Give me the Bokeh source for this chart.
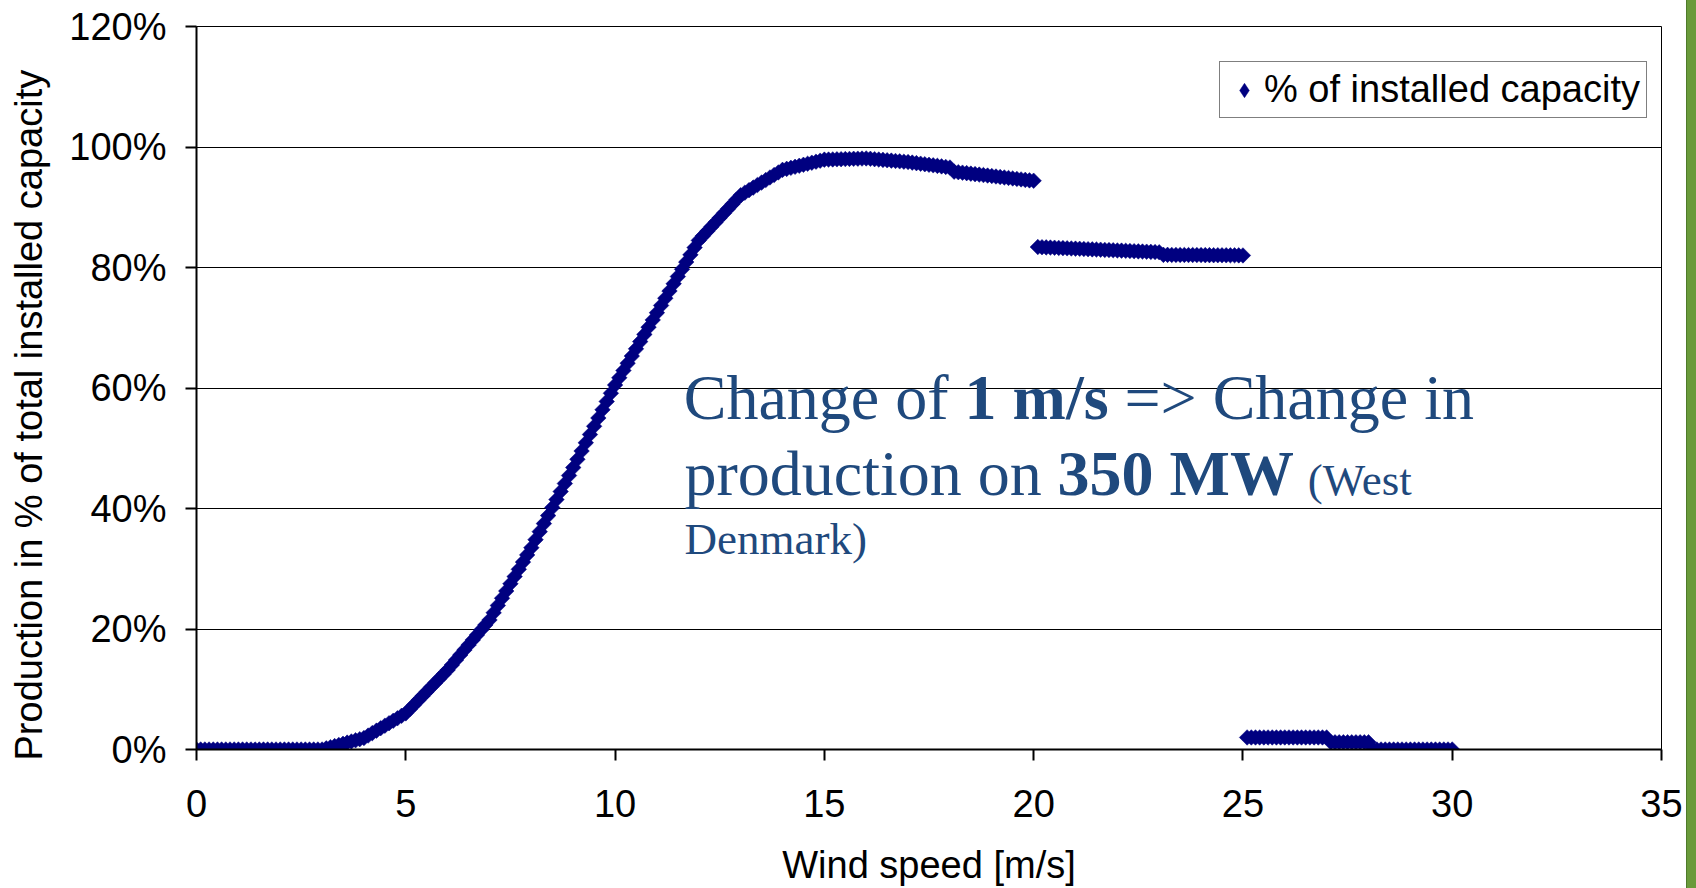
import math
from bokeh.plotting import figure
from bokeh.layouts import row
from bokeh.models import (Range1d, FixedTicker, Label, Legend, LegendItem, Title, Div,
                          LinearAxis)
from bokeh.embed import file_html
from bokeh.resources import INLINE

# ---------------- data ----------------
wind_speed = [
    0.0, 0.1, 0.2, 0.3, 0.4, 0.5, 0.6, 0.7, 0.8, 0.9,
    1.0, 1.1, 1.2, 1.3, 1.4, 1.5, 1.6, 1.7, 1.8, 1.9,
    2.0, 2.1, 2.2, 2.3, 2.4, 2.5, 2.6, 2.7, 2.8, 2.9,
    3.0, 3.1, 3.2, 3.3, 3.4, 3.5, 3.6, 3.7, 3.8, 3.9,
    4.0, 4.1, 4.2, 4.3, 4.4, 4.5, 4.6, 4.7, 4.8, 4.9,
    5.0, 5.1, 5.2, 5.3, 5.4, 5.5, 5.6, 5.7, 5.8, 5.9,
    6.0, 6.1, 6.2, 6.3, 6.4, 6.5, 6.6, 6.7, 6.8, 6.9,
    7.0, 7.1, 7.2, 7.3, 7.4, 7.5, 7.6, 7.7, 7.8, 7.9,
    8.0, 8.1, 8.2, 8.3, 8.4, 8.5, 8.6, 8.7, 8.8, 8.9,
    9.0, 9.1, 9.2, 9.3, 9.4, 9.5, 9.6, 9.7, 9.8, 9.9,
    10.0, 10.1, 10.2, 10.3, 10.4, 10.5, 10.6, 10.7, 10.8, 10.9,
    11.0, 11.1, 11.2, 11.3, 11.4, 11.5, 11.6, 11.7, 11.8, 11.9,
    12.0, 12.1, 12.2, 12.3, 12.4, 12.5, 12.6, 12.7, 12.8, 12.9,
    13.0, 13.1, 13.2, 13.3, 13.4, 13.5, 13.6, 13.7, 13.8, 13.9,
    14.0, 14.1, 14.2, 14.3, 14.4, 14.5, 14.6, 14.7, 14.8, 14.9,
    15.0, 15.1, 15.2, 15.3, 15.4, 15.5, 15.6, 15.7, 15.8, 15.9,
    16.0, 16.1, 16.2, 16.3, 16.4, 16.5, 16.6, 16.7, 16.8, 16.9,
    17.0, 17.1, 17.2, 17.3, 17.4, 17.5, 17.6, 17.7, 17.8, 17.9,
    18.0, 18.1, 18.2, 18.3, 18.4, 18.5, 18.6, 18.7, 18.8, 18.9,
    19.0, 19.1, 19.2, 19.3, 19.4, 19.5, 19.6, 19.7, 19.8, 19.9,
    20.0, 20.1, 20.2, 20.3, 20.4, 20.5, 20.6, 20.7, 20.8, 20.9,
    21.0, 21.1, 21.2, 21.3, 21.4, 21.5, 21.6, 21.7, 21.8, 21.9,
    22.0, 22.1, 22.2, 22.3, 22.4, 22.5, 22.6, 22.7, 22.8, 22.9,
    23.0, 23.1, 23.2, 23.3, 23.4, 23.5, 23.6, 23.7, 23.8, 23.9,
    24.0, 24.1, 24.2, 24.3, 24.4, 24.5, 24.6, 24.7, 24.8, 24.9,
    25.0, 25.1, 25.2, 25.3, 25.4, 25.5, 25.6, 25.7, 25.8, 25.9,
    26.0, 26.1, 26.2, 26.3, 26.4, 26.5, 26.6, 26.7, 26.8, 26.9,
    27.0, 27.1, 27.2, 27.3, 27.4, 27.5, 27.6, 27.7, 27.8, 27.9,
    28.0, 28.1, 28.2, 28.3, 28.4, 28.5, 28.6, 28.7, 28.8, 28.9,
    29.0, 29.1, 29.2, 29.3, 29.4, 29.5, 29.6, 29.7, 29.8, 29.9,
    30.0,
]

capacity_pct = [
    0, 0, 0, 0, 0, 0, 0, 0, 0, 0,
    0, 0, 0, 0, 0, 0, 0, 0, 0, 0,
    0, 0, 0, 0, 0, 0, 0, 0, 0, 0,
    0, 0.19, 0.38, 0.57, 0.76, 0.95, 1.14, 1.33, 1.52, 1.71,
    1.9, 2.31, 2.72, 3.13, 3.54, 3.95, 4.36, 4.77, 5.18, 5.59,
    6.0, 6.72, 7.44, 8.16, 8.88, 9.6, 10.32, 11.04, 11.76, 12.48,
    13.2, 14.03, 14.86, 15.69, 16.52, 17.35, 18.18, 19.01, 19.84, 20.67,
    21.5, 22.7, 23.9, 25.1, 26.3, 27.5, 28.7, 29.9, 31.1, 32.3,
    33.5, 34.83, 36.16, 37.49, 38.82, 40.15, 41.48, 42.81, 44.14, 45.47,
    46.8, 48.17, 49.54, 50.91, 52.28, 53.65, 55.02, 56.39, 57.76, 59.13,
    60.5, 61.7, 62.9, 64.1, 65.3, 66.5, 67.7, 68.9, 70.1, 71.3,
    72.5, 73.7, 74.9, 76.1, 77.3, 78.5, 79.7, 80.9, 82.1, 83.3,
    84.5, 85.25, 86.0, 86.75, 87.5, 88.25, 89.0, 89.75, 90.5, 91.25,
    92.0, 92.42, 92.84, 93.26, 93.68, 94.1, 94.52, 94.94, 95.36, 95.78,
    96.2, 96.37, 96.54, 96.71, 96.88, 97.05, 97.22, 97.39, 97.56, 97.73,
    97.9, 97.92, 97.94, 97.96, 97.98, 98.0, 98.02, 98.04, 98.06, 98.08,
    98.1, 98.04, 97.98, 97.92, 97.86, 97.8, 97.74, 97.68, 97.62, 97.56,
    97.5, 97.41, 97.32, 97.23, 97.14, 97.05, 96.96, 96.87, 96.78, 96.69,
    96.6, 95.9, 95.82, 95.74, 95.66, 95.58, 95.5, 95.42, 95.34, 95.26,
    95.18, 95.1, 95.02, 94.94, 94.86, 94.78, 94.7, 94.62, 94.54, 94.46,
    94.4, 83.4, 83.37, 83.34, 83.31, 83.28, 83.25, 83.22, 83.19, 83.16,
    83.13, 83.1, 83.07, 83.04, 83.01, 82.98, 82.95, 82.92, 82.89, 82.86,
    82.83, 82.8, 82.77, 82.74, 82.71, 82.68, 82.65, 82.62, 82.59, 82.56,
    82.53, 82.1, 82.1, 82.09, 82.09, 82.08, 82.08, 82.07, 82.07, 82.06,
    82.06, 82.05, 82.05, 82.04, 82.04, 82.03, 82.03, 82.02, 82.02, 82.01,
    82.0, 2.0, 2.0, 2.0, 2.0, 2.0, 2.0, 2.0, 2.0, 2.0,
    2.0, 2.0, 2.0, 2.0, 2.0, 2.0, 2.0, 2.0, 2.0, 2.0,
    2.0, 1.2, 1.2, 1.2, 1.2, 1.2, 1.2, 1.2, 1.2, 1.2,
    1.2, 0, 0, 0, 0, 0, 0, 0, 0, 0,
    0, 0, 0, 0, 0, 0, 0, 0, 0, 0,
    0,
]

series_name = "% of installed capacity"
x_ticks = [0, 5, 10, 15, 20, 25, 30, 35]
y_ticks = [0, 20, 40, 60, 80, 100, 120]
y_tick_labels = ["0%", "20%", "40%", "60%", "80%", "100%", "120%"]
x_title = "Wind speed [m/s]"
y_title = "Production in % of total installed capacity"

SANS = "Liberation Sans"
SERIF = "Liberation Serif"
NAVY = "#000080"
NOTE = "#1F497D"
FS = "38px"

# ---------------- figure ----------------
p = figure(
    width=1686, height=888,
    output_backend="svg", toolbar_location=None,
    x_range=Range1d(0, 35), y_range=Range1d(0, 120),
    min_border_left=196, min_border_right=25,
    min_border_top=26, min_border_bottom=137,
)
p.background_fill_color = "white"
p.border_fill_color = "white"
p.outline_line_color = "black"
p.outline_line_width = 1

# diamond series (the narrow diamonds sit hidden inside the square diamonds and
# give the legend its diamond key)
r_key = p.scatter(wind_speed, capacity_pct, marker="diamond", size=10,
                  fill_color=NAVY, line_color=NAVY, line_width=0.5)
r = p.scatter(wind_speed, capacity_pct, marker="square", angle=math.pi / 4,
              size=11, fill_color=NAVY, line_color=NAVY, line_width=0.5)

# axes
for ax in (p.xaxis[0], p.yaxis[0]):
    ax.axis_line_color = "black"
    ax.axis_line_width = 2
    ax.major_tick_line_color = "black"
    ax.major_tick_line_width = 2
    ax.major_tick_in = 0
    ax.major_tick_out = 11
    ax.minor_tick_line_color = None
    ax.major_label_text_font = SANS
    ax.major_label_text_font_size = FS
    ax.major_label_text_color = "black"

xax = p.xaxis[0]
xax.ticker = FixedTicker(ticks=x_ticks)
xax.major_label_standoff = 29
xax.axis_label = x_title
xax.axis_label_text_font = SANS
xax.axis_label_text_font_size = FS
xax.axis_label_text_font_style = "normal"
xax.axis_label_text_color = "black"
xax.axis_label_standoff = 24

yax = p.yaxis[0]
yax.ticker = FixedTicker(ticks=y_ticks)
yax.major_label_overrides = {t: s for t, s in zip(y_ticks, y_tick_labels)}
yax.major_label_standoff = 19

p.xgrid.visible = False
p.ygrid.grid_line_color = "black"
p.ygrid.grid_line_width = 1
p.ygrid.grid_line_alpha = 1

# invisible spacer axis (one hidden tick) so the y title sits further out
spacer = LinearAxis(ticker=FixedTicker(ticks=[0]), major_label_overrides={0: ""},
                    axis_line_color=None, major_tick_line_color=None,
                    minor_tick_line_color=None, major_tick_out=11, major_tick_in=0,
                    minor_tick_out=0, minor_tick_in=0, major_label_standoff=0)
p.add_layout(spacer, "left")

# y axis title (as a side title so it can be shifted along the axis)
p.add_layout(Title(text=y_title, align="left", offset=-11, vertical_align="middle",
                   text_font=SANS, text_font_size=FS, text_font_style="normal",
                   text_color="black", standoff=10), "left")

# legend
legend = Legend(items=[LegendItem(label=series_name, renderers=[r_key])],
                location=(1023, 631))
legend.padding = 6
legend.glyph_width = 36
legend.glyph_height = 40
legend.label_standoff = 2
legend.label_text_font = SANS
legend.label_text_font_size = FS
legend.label_text_color = "black"
legend.border_line_color = "black"
legend.border_line_width = 1
legend.background_fill_color = "white"
legend.background_fill_alpha = 1
legend.margin = 0
p.add_layout(legend)

# annotation text
def note(x, y, text, size="64px", style="normal"):
    p.add_layout(Label(x=x, y=y, text=text, text_font=SERIF, text_font_size=size,
                       text_font_style=style, text_color=NOTE,
                       text_align="left", text_baseline="alphabetic"))

note(11.64, 58.43, "Change of ")
note(18.35, 58.43, "1 m/s", style="bold")
note(22.17, 58.43, "=> Change in")
note(11.66, 45.73, "production on ")
note(20.57, 45.73, "350 MW", style="bold")
note(26.55, 44.77, "(West", size="45px")
note(11.66, 34.97, "Denmark)", size="45px")

# green slide edge on the right
bar = Div(text="", width=10, height=888, margin=0,
          styles={"background-color": "#6A9A3A", "border-left": "1px solid #4E7A2A",
                  "box-sizing": "border-box"})

layout = row(p, bar, spacing=0)
open("out.html", "w").write(file_html(layout, INLINE))
